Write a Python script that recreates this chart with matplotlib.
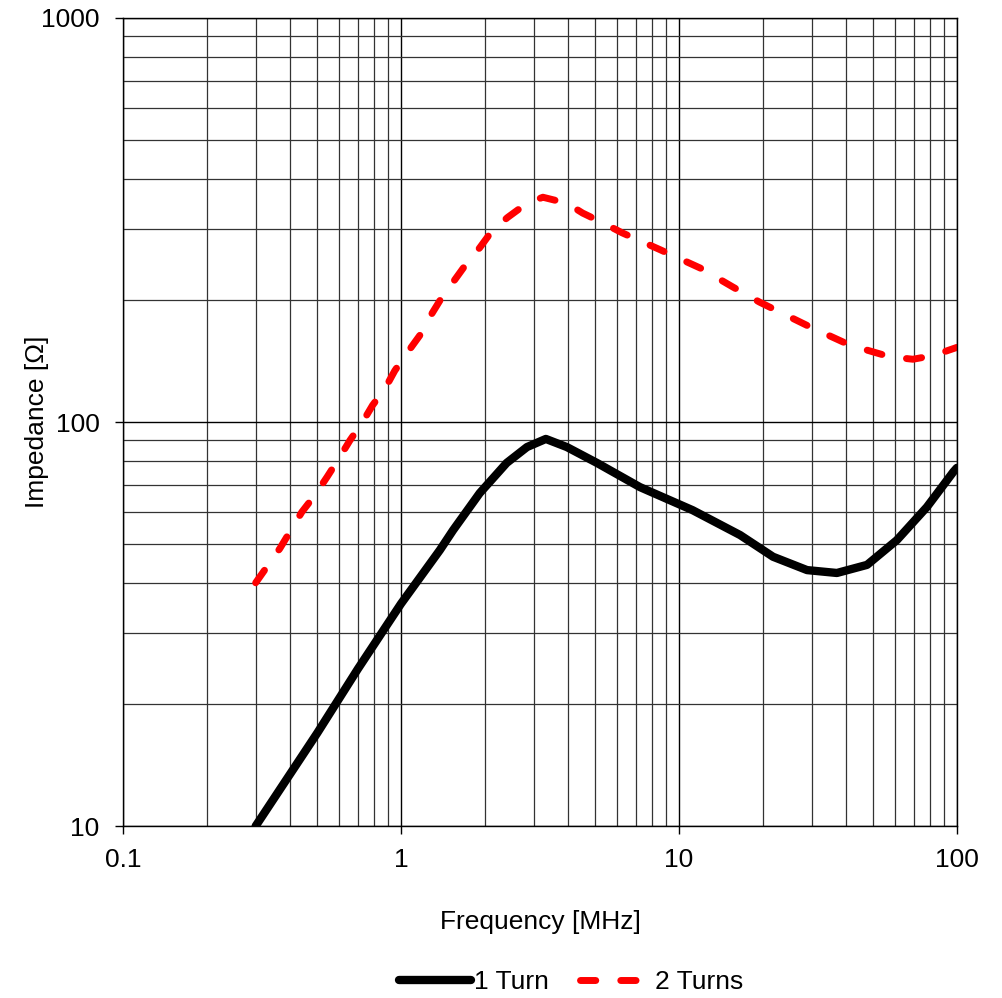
import matplotlib
matplotlib.use("Agg")
import matplotlib.pyplot as plt
from matplotlib.ticker import LogLocator, FixedLocator, FixedFormatter, NullFormatter

plt.rcParams['font.family'] = ['Liberation Sans', 'DejaVu Sans']

# 1 Turn
f1 = [0.3, 0.5, 0.7, 1.0, 1.38, 1.54, 1.92, 2.40, 2.84, 3.32, 3.95, 5.07, 7.24, 11.2, 16.6, 21.8, 28.9, 37.0, 47.5, 60.8, 78.0, 97.0, 100.0]
z1 = [10.0, 17.0, 24.5, 35.5, 48.2, 54.0, 66.7, 79.2, 86.7, 90.8, 86.7, 79.2, 69.0, 60.5, 52.5, 46.4, 43.0, 42.3, 44.3, 51.0, 61.6, 75.2, 77.0]

# 2 Turns
f2 = [0.3, 0.367, 0.44, 0.49, 0.542, 0.593, 0.656, 0.724, 0.79, 0.876, 0.95, 1.05, 1.17, 1.27, 1.40, 1.54, 1.73, 1.92, 2.14, 2.42, 2.84, 3.24, 3.95, 4.5, 5.33, 6.24, 8.55, 12.0, 15.6, 19.5, 29.6, 41.2, 57.4, 69.5, 82.0, 100.0]
z2 = [40.0, 48.7, 59.9, 65.9, 73.1, 80.5, 90.2, 99.4, 110.0, 121.0, 134.0, 148.0, 164.0, 182.0, 203.0, 222.0, 248.0, 270.0, 299.0, 321.0, 348.0, 360.0, 348.0, 329.0, 311.0, 294.0, 267.0, 240.0, 216.0, 198.0, 172.0, 155.0, 145.0, 143.0, 146.0, 153.0]

fig = plt.figure(figsize=(10.02, 9.98), dpi=100)
ax = fig.add_axes([0.1228, 0.1723, 0.8322, 0.8097])

ax.plot(f1, z1, color='black', lw=6, solid_capstyle='round', solid_joinstyle='round', label='1 Turn')
ax.plot(f2, z2, color='#ff0000', lw=5, dashes=(2.2, 3.6), dash_capstyle='round',
        dash_joinstyle='round', label='2 Turns')

ax.set_xscale('log')
ax.set_yscale('log')
ax.set_xlim(0.1, 100)
ax.set_ylim(10, 1000)

ax.xaxis.set_major_locator(FixedLocator([0.1, 1, 10, 100]))
ax.xaxis.set_major_formatter(FixedFormatter(['0.1', '1', '10', '100']))
ax.yaxis.set_major_locator(FixedLocator([10, 100, 1000]))
ax.yaxis.set_major_formatter(FixedFormatter(['10', '100', '1000']))
ax.xaxis.set_minor_locator(LogLocator(base=10, subs=range(2, 10)))
ax.yaxis.set_minor_locator(LogLocator(base=10, subs=range(2, 10)))
ax.xaxis.set_minor_formatter(NullFormatter())
ax.yaxis.set_minor_formatter(NullFormatter())

ax.grid(True, which='major', color='black', lw=1.0)
ax.grid(True, which='minor', color='#333333', lw=0.9)
ax.set_axisbelow(True)

ax.tick_params(which='major', direction='out', length=6, width=1, labelsize=19)
ax.tick_params(axis='y', which='major', pad=11)
ax.tick_params(axis='x', which='major', pad=10)
ax.tick_params(which='minor', length=0)
for s in ax.spines.values():
    s.set_linewidth(1.0)

ax.set_xlabel('Frequency [MHz]', fontsize=19, labelpad=27)
ax.set_ylabel('Impedance [Ω]', fontsize=19, labelpad=-6)

fig.legend(loc='center', bbox_to_anchor=(0.57, 0.016), ncol=2, frameon=False,
           fontsize=19, handlelength=2.75, handletextpad=0.1, columnspacing=1.2)

fig.savefig('out.png', dpi=100)
